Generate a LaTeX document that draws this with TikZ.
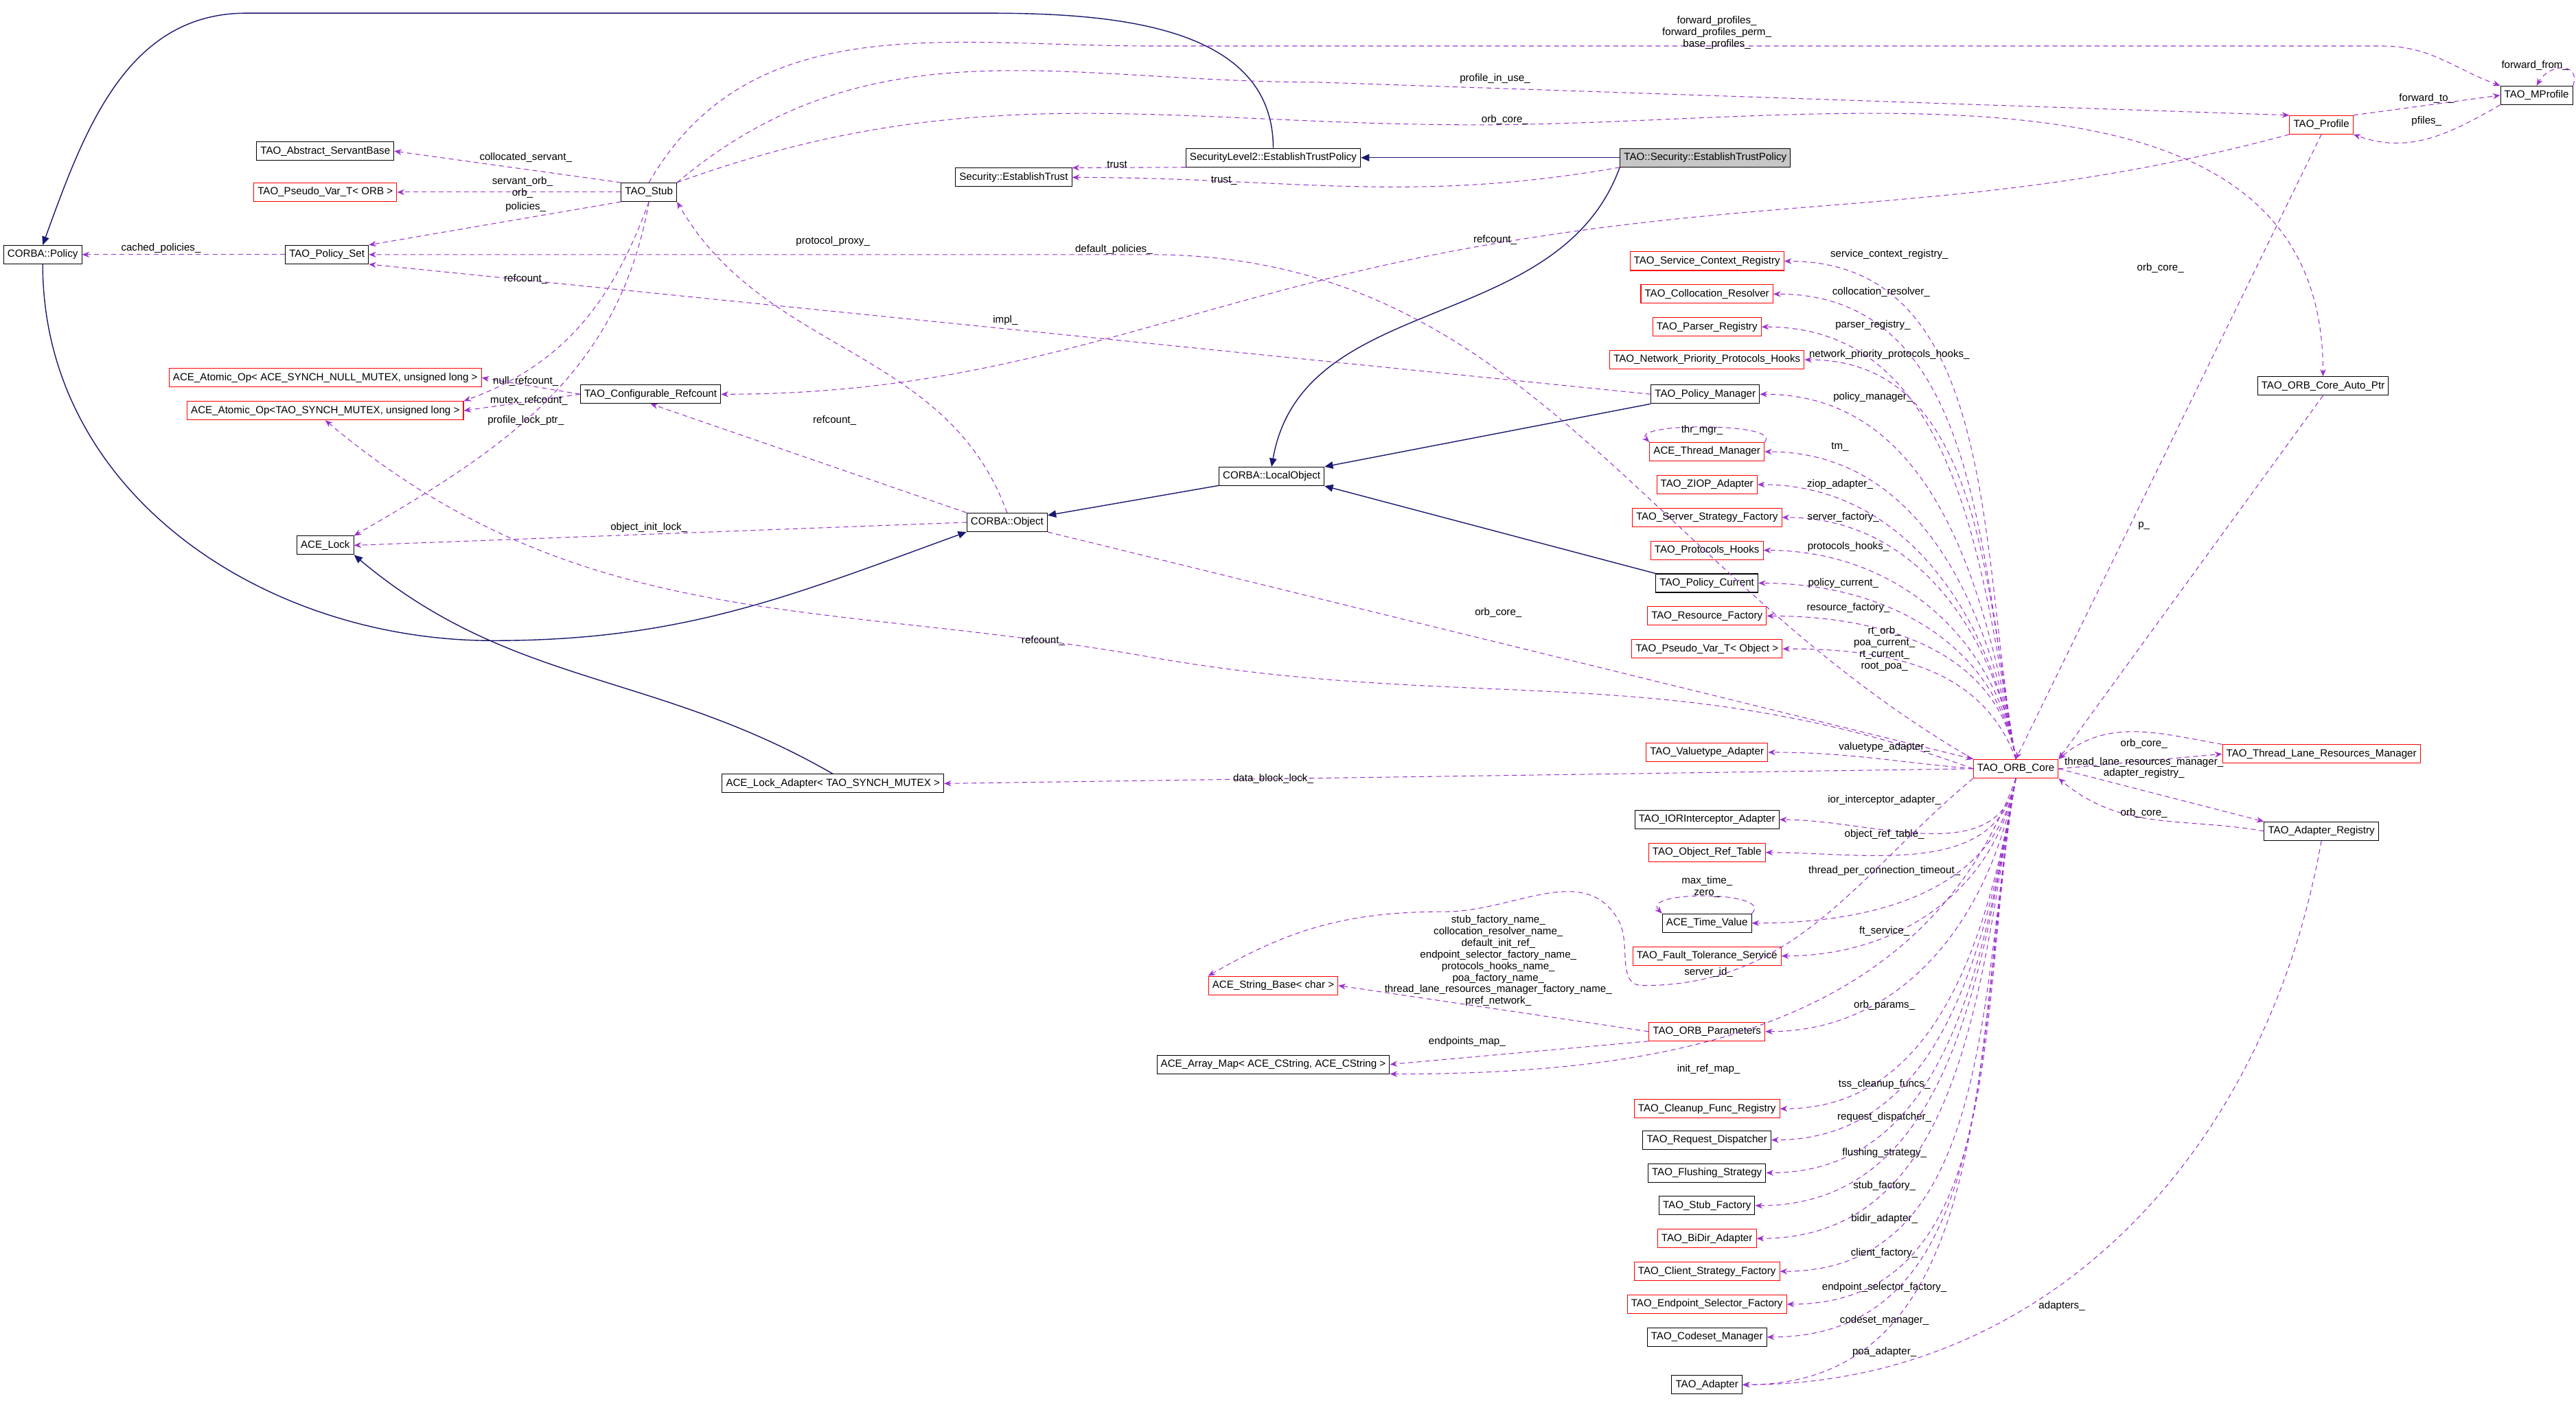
\documentclass[tikz,border=0pt]{standalone}
\usepackage{fontspec}
\setmainfont{Liberation Sans}
\usetikzlibrary{arrows.meta}
\definecolor{inhc}{HTML}{191970}
\definecolor{depc}{HTML}{9A32CD}
\begin{document}
\begin{tikzpicture}[x=0.02393cm,y=-0.02393cm,
 every node/.style={font=\fontsize{4.3}{4.8}\selectfont},
 cls/.style={draw=black,fill=white,line width=0.3pt,inner xsep=1.6pt,inner ysep=0pt,minimum height=0.27cm},
 rcls/.style={cls,draw=red},
 gcls/.style={cls,fill=black!22},
 dep/.style={draw=depc,dashed,line width=0.3pt,dash pattern=on 2pt off 1.5pt,-{Stealth[length=3pt,width=2.4pt,fill=depc]}},
 inh/.style={draw=inhc,line width=0.4pt,-{Triangle[length=3.5pt,width=3pt,fill=inhc]}},
 lbl/.style={align=center,inner sep=0.5pt}]
\useasboundingbox (0,0) rectangle (1568,866);
% nodes
\node[gcls] (tsp) at (1038,96) {TAO::Security::EstablishTrustPolicy};
\node[cls] (sl2) at (775,96) {SecurityLevel2::EstablishTrustPolicy};
\node[cls] (set) at (617,108) {Security::EstablishTrust};
\node[cls] (asb) at (198,92) {TAO\_Abstract\_ServantBase};
\node[rcls] (pvo) at (198,117) {TAO\_Pseudo\_Var\_T< ORB >};
\node[cls] (stub) at (395,117) {TAO\_Stub};
\node[cls] (cpol) at (26,155) {CORBA::Policy};
\node[cls] (pset) at (199,155) {TAO\_Policy\_Set};
\node[rcls] (aon) at (198,230) {ACE\_Atomic\_Op< ACE\_SYNCH\_NULL\_MUTEX, unsigned long >};
\node[rcls] (aot) at (198,250) {ACE\_Atomic\_Op<TAO\_SYNCH\_MUTEX, unsigned long >};
\node[cls] (cref) at (396,240) {TAO\_Configurable\_Refcount};
\node[cls] (lock) at (198,332) {ACE\_Lock};
\node[cls] (cobj) at (613,318) {CORBA::Object};
\node[cls] (lobj) at (774,290) {CORBA::LocalObject};
\node[cls] (ladp) at (507,477) {ACE\_Lock\_Adapter< TAO\_SYNCH\_MUTEX >};
\node[rcls] (prof) at (1413,76) {TAO\_Profile};
\node[cls] (mprof) at (1544,58) {TAO\_MProfile};
\node[cls] (oap) at (1414,235) {TAO\_ORB\_Core\_Auto\_Ptr};
\node[rcls] (orb) at (1227,468) {TAO\_ORB\_Core};
\node[rcls] (tlrm) at (1413,459) {TAO\_Thread\_Lane\_Resources\_Manager};
\node[cls] (areg) at (1413,506) {TAO\_Adapter\_Registry};
\node[rcls] (scr) at (1039,159) {TAO\_Service\_Context\_Registry};
\node[rcls] (colr) at (1039,179) {TAO\_Collocation\_Resolver};
\node[rcls] (preg) at (1039,199) {TAO\_Parser\_Registry};
\node[rcls] (nph) at (1039,219) {TAO\_Network\_Priority\_Protocols\_Hooks};
\node[cls] (pman) at (1038,240) {TAO\_Policy\_Manager};
\node[rcls] (thm) at (1039,275) {ACE\_Thread\_Manager};
\node[rcls] (ziop) at (1039,295) {TAO\_ZIOP\_Adapter};
\node[rcls] (ssf) at (1039,315) {TAO\_Server\_Strategy\_Factory};
\node[rcls] (phk) at (1039,335) {TAO\_Protocols\_Hooks};
\node[cls] (pcur) at (1039,355) {TAO\_Policy\_Current};
\node[rcls] (rfac) at (1039,375) {TAO\_Resource\_Factory};
\node[rcls] (pvob) at (1039,395) {TAO\_Pseudo\_Var\_T< Object >};
\node[rcls] (vta) at (1039,458) {TAO\_Valuetype\_Adapter};
\node[cls] (iora) at (1039,499) {TAO\_IORInterceptor\_Adapter};
\node[rcls] (ort) at (1039,519) {TAO\_Object\_Ref\_Table};
\node[cls] (tval) at (1039,562) {ACE\_Time\_Value};
\node[rcls] (fts) at (1039,582) {TAO\_Fault\_Tolerance\_Service};
\node[rcls] (opar) at (1039,628) {TAO\_ORB\_Parameters};
\node[rcls] (sbase) at (775,600) {ACE\_String\_Base< char >};
\node[cls] (amap) at (775,648) {ACE\_Array\_Map< ACE\_CString, ACE\_CString >};
\node[rcls] (cfr) at (1039,675) {TAO\_Cleanup\_Func\_Registry};
\node[cls] (rdis) at (1039,694) {TAO\_Request\_Dispatcher};
\node[cls] (fls) at (1039,714) {TAO\_Flushing\_Strategy};
\node[cls] (stf) at (1039,734) {TAO\_Stub\_Factory};
\node[rcls] (bidir) at (1039,754) {TAO\_BiDir\_Adapter};
\node[rcls] (csf) at (1039,774) {TAO\_Client\_Strategy\_Factory};
\node[rcls] (esf) at (1039,794) {TAO\_Endpoint\_Selector\_Factory};
\node[cls] (csm) at (1039,814) {TAO\_Codeset\_Manager};
\node[cls] (adp) at (1039,843) {TAO\_Adapter};
% inheritance
\draw[inh] (tsp) -- (sl2);
\draw[inh] (tsp.south west) to[out=-110,in=80] (lobj.north);
\draw[inh] (sl2.north) to[out=90,in=0] (600,8) -- (150,8) to[out=180,in=70] (cpol.north);
\draw[inh] (cpol.south) to[out=-90,in=180] (300,390) to[out=0,in=-160] (cobj.south west);
\draw[inh] (lobj) -- (cobj);
\draw[inh] (pman.south west) -- (lobj.north east);
\draw[inh] (pcur.north west) -- (lobj.south east);
\draw[inh] (ladp.north) to[out=150,in=-40] (lock.south east);
% dependencies
\draw[dep] (sl2.south west) -- (set.north east) node[lbl] at (680,100) {trust};
\draw[dep] (tsp.south west) to[out=-170,in=0] (set.east) node[lbl] at (745,110) {trust\_};
\draw[dep] (stub.north west) -- (asb.east) node[lbl] at (320,96) {collocated\_servant\_};
\draw[dep] (stub.west) -- (pvo.east) node[lbl] at (318,114) {servant\_orb\_\\orb\_};
\draw[dep] (stub.south west) -- (pset.north east) node[lbl] at (320,126) {policies\_};
\draw[dep] (pset) -- (cpol) node[lbl] at (98,151) {cached\_policies\_};
\draw[dep] (orb.north west) to[out=150,in=0] (700,155) -- (pset.east) node[lbl] at (678,152) {default\_policies\_};
\draw[dep] (pman.west) -- (pset.south east) node[lbl] at (612,195) {impl\_};
\draw[dep] (cref.west) -- (aon.east) node[lbl] at (320,232) {null\_refcount\_};
\draw[dep] (cref.west) -- (aot.east) node[lbl] at (322,244) {mutex\_refcount\_};
\draw[dep] (stub.south) to[out=-110,in=20] (aot.north east) node[lbl] at (320,170) {refcount\_};
\draw[dep] (orb.west) to[out=160,in=-10] (700,400) to[out=170,in=-40] (aot.south) node[lbl] at (635,390) {refcount\_};
\draw[dep] (stub.south) to[out=-100,in=30] (lock.north east) node[lbl] at (320,256) {profile\_lock\_ptr\_};
\draw[dep] (cobj.west) -- (lock.east) node[lbl] at (395,321) {object\_init\_lock\_};
\draw[dep] (cobj.north west) -- (cref.south) node[lbl] at (508,256) {refcount\_};
\draw[dep] (prof.south west) to[out=-165,in=10] (900,150) to[out=190,in=0] (cref.east) node[lbl] at (910,146) {refcount\_};
\draw[dep] (cobj.north) to[out=110,in=-60] (stub.south east) node[lbl] at (507,147) {protocol\_proxy\_};
\draw[dep] (stub.north east) to[out=20,in=180] (900,76) to[out=0,in=90] (oap.north) node[lbl] at (916,73) {orb\_core\_};
\draw[dep] (stub.north east) to[out=40,in=180] (800,50) -- (prof.north west) node[lbl] at (910,48) {profile\_in\_use\_};
\draw[dep] (stub.north) to[out=60,in=180] (700,28) -- (1450,28) to[out=0,in=160] (mprof.north west) node[lbl] at (1045,20) {forward\_profiles\_\\forward\_profiles\_perm\_\\base\_profiles\_};
\draw[dep] (mprof.north east) .. controls +(5,-14) and +(8,-14) .. (mprof.north) node[lbl] at (1543,40) {forward\_from\_};
\draw[dep] (prof.north east) -- (mprof.west) node[lbl] at (1477,60) {forward\_to\_};
\draw[dep] (mprof.south west) to[out=-150,in=-20] (prof.south east) node[lbl] at (1477,74) {pfiles\_};
\draw[dep] (prof.south) -- (orb.north) node[lbl] at (1315,163) {orb\_core\_};
\draw[dep] (oap.south) -- (orb.north east) node[lbl] at (1305,320) {p\_};
\draw[dep] (cobj.south east) -- (orb.north west) node[lbl] at (912,373) {orb\_core\_};
\draw[dep] (tlrm.north west) to[out=170,in=40] (orb.north east) node[lbl] at (1305,453) {orb\_core\_};
\draw[dep] (orb.east) -- (tlrm.west) node[lbl] at (1305,464) {thread\_lane\_resources\_manager\_};
\draw[dep] (orb.east) -- (areg.north west) node[lbl] at (1305,471) {adapter\_registry\_};
\draw[dep] (areg.west) to[out=170,in=-40] (orb.south east) node[lbl] at (1305,495) {orb\_core\_};
\draw[dep] (areg.south) to[out=-100,in=0] (adp.east) node[lbl] at (1255,795) {adapters\_};
\draw[dep] (orb.west) -- (ladp.east) node[lbl] at (775,474) {data\_block\_lock\_};
\draw[dep] (thm.north east) .. controls +(12,-12) and +(-12,-12) .. (thm.north west) node[lbl] at (1036,262) {thr\_mgr\_};
\draw[dep] (tval.north east) .. controls +(14,-14) and +(-14,-14) .. (tval.north west) node[lbl] at (1039,540) {max\_time\_\\zero\_};
% ORB core member links
\foreach \t/\l/\lx/\ly in {scr/service\_context\_registry\_/1150/155, colr/collocation\_resolver\_/1145/178, preg/parser\_registry\_/1140/198, nph/network\_priority\_protocols\_hooks\_/1150/216, pman/policy\_manager\_/1140/242, thm/tm\_/1120/272, ziop/ziop\_adapter\_/1120/295, ssf/server\_factory\_/1122/315, phk/protocols\_hooks\_/1125/333, pcur/policy\_current\_/1122/355, rfac/resource\_factory\_/1125/370}
  {\draw[dep] (orb.north) to[out=100,in=0] (\t.east) node[lbl] at (\lx,\ly) {\l};}
\foreach \t/\l/\lx/\ly in {iora/ior\_interceptor\_adapter\_/1147/487, ort/object\_ref\_table\_/1147/508, tval/thread\_per\_connection\_timeout\_/1147/530, fts/ft\_service\_/1147/567, opar/orb\_params\_/1147/612, cfr/tss\_cleanup\_funcs\_/1147/660, rdis/request\_dispatcher\_/1147/680, fls/flushing\_strategy\_/1147/702, stf/stub\_factory\_/1147/722, bidir/bidir\_adapter\_/1147/742, csf/client\_factory\_/1147/763, esf/endpoint\_selector\_factory\_/1147/784, csm/codeset\_manager\_/1147/804, adp/poa\_adapter\_/1147/823}
  {\draw[dep] (orb.south) to[out=-100,in=0] (\t.east) node[lbl] at (\lx,\ly) {\l};}
\draw[dep] (orb.west) to[out=175,in=0] (vta.east) node[lbl] at (1147,455) {valuetype\_adapter\_};
\draw[dep] (orb.north) to[out=110,in=0] (pvob.east) node[lbl] at (1147,395) {rt\_orb\_\\poa\_current\_\\rt\_current\_\\root\_poa\_};
\draw[dep] (orb.south west) to[out=-140,in=0] (1000,600) to[out=180,in=-60] (985,560) to[out=120,in=0] (880,555) to[out=180,in=30] (sbase.north west) node[lbl] at (1040,592) {server\_id\_};
\draw[dep] (opar.west) -- (sbase.east) node[lbl] at (912,585) {stub\_factory\_name\_\\collocation\_resolver\_name\_\\default\_init\_ref\_\\endpoint\_selector\_factory\_name\_\\protocols\_hooks\_name\_\\poa\_factory\_name\_\\thread\_lane\_resources\_manager\_factory\_name\_\\pref\_network\_};
\draw[dep] (opar.south west) -- (amap.east) node[lbl] at (893,634) {endpoints\_map\_};
\draw[dep] (orb.south) to[out=-110,in=0] (amap.south east) node[lbl] at (1040,651) {init\_ref\_map\_};
\end{tikzpicture}
\end{document}
